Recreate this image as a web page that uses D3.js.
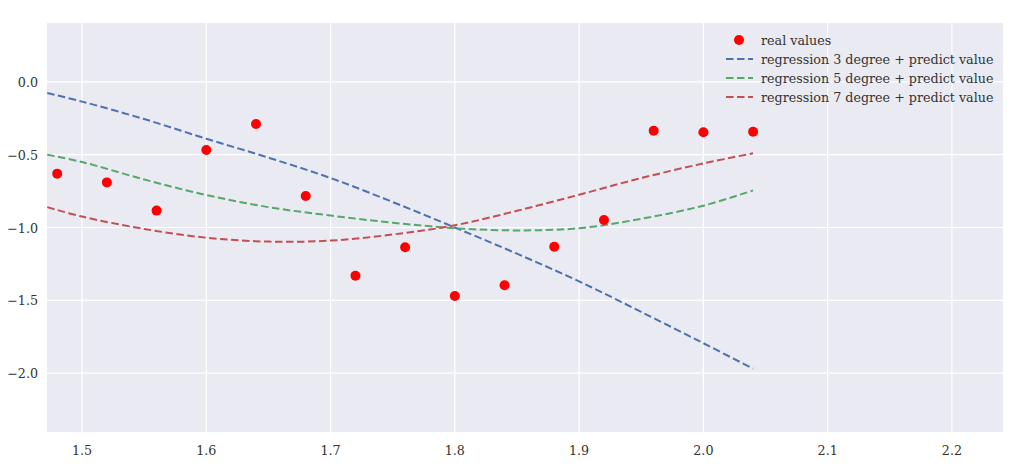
<!DOCTYPE html>
<html>
<head>
<meta charset="UTF-8">
<title>regression</title>
<script src="https://d3js.org/d3.v7.min.js"></script>
<style>
  body { margin: 0; background: #fff; }
  text { font-family: "DejaVu Serif", serif; }
</style>
</head>
<body>
<div id="chart"></div>
<script>
// real values
var pointX = [1.48, 1.52, 1.56, 1.60, 1.64, 1.68, 1.72, 1.76, 1.80, 1.84, 1.88, 1.92, 1.96, 2.00, 2.04];
var pointY = [-0.630, -0.690, -0.884, -0.467, -0.289, -0.784, -1.331, -1.136, -1.471, -1.397, -1.132, -0.948, -0.335, -0.346, -0.342];

// fitted curves
var curveX = [1.472, 1.50, 1.55, 1.60, 1.65, 1.70, 1.75, 1.80, 1.85, 1.90, 1.95, 2.00, 2.04];
var deg3 = [-0.076, -0.135, -0.255, -0.39, -0.52, -0.66, -0.825, -1.00, -1.18, -1.37, -1.58, -1.795, -1.97];
var deg5 = [-0.50, -0.55, -0.67, -0.777, -0.86, -0.918, -0.967, -1.005, -1.02, -1.005, -0.94, -0.85, -0.745];
var deg7 = [-0.86, -0.925, -1.01, -1.07, -1.097, -1.09, -1.048, -0.985, -0.885, -0.775, -0.66, -0.56, -0.49];

var xTicks = [1.5, 1.6, 1.7, 1.8, 1.9, 2.0, 2.1, 2.2];
var yTicks = [0.0, -0.5, -1.0, -1.5, -2.0];

var series = [
  { label: 'regression 3 degree + predict value', values: deg3, color: '#4C72B0' },
  { label: 'regression 5 degree + predict value', values: deg5, color: '#55A868' },
  { label: 'regression 7 degree + predict value', values: deg7, color: '#C44E52' }
];

var width = 1024, height = 465;
var margin = { left: 47, right: 21, top: 23, bottom: 33 };
var fontSize = 12.7;

var svg = d3.select('#chart').append('svg')
  .attr('width', width)
  .attr('height', height);

var x = d3.scaleLinear().domain([1.4718, 2.2411]).range([margin.left, width - margin.right]);
var y = d3.scaleLinear().domain([-2.405, 0.405]).range([height - margin.bottom, margin.top]);

svg.append('rect')
  .attr('x', margin.left).attr('y', margin.top)
  .attr('width', width - margin.left - margin.right)
  .attr('height', height - margin.top - margin.bottom)
  .attr('fill', '#EAEAF2');

// grid
svg.append('g').selectAll('line').data(xTicks).enter().append('line')
  .attr('x1', function(d) { return x(d); }).attr('x2', function(d) { return x(d); })
  .attr('y1', margin.top).attr('y2', height - margin.bottom)
  .attr('stroke', '#fff').attr('stroke-width', 1.2);
svg.append('g').selectAll('line').data(yTicks).enter().append('line')
  .attr('y1', function(d) { return y(d); }).attr('y2', function(d) { return y(d); })
  .attr('x1', margin.left).attr('x2', width - margin.right)
  .attr('stroke', '#fff').attr('stroke-width', 1.2);

// tick labels
var fmt = d3.format('.1f');
svg.append('g').selectAll('text').data(xTicks).enter().append('text')
  .attr('x', function(d) { return x(d); })
  .attr('y', height - margin.bottom + 23)
  .attr('text-anchor', 'middle')
  .attr('font-size', fontSize)
  .attr('fill', '#333')
  .text(function(d) { return fmt(d); });
svg.append('g').selectAll('text').data(yTicks).enter().append('text')
  .attr('x', margin.left - 9)
  .attr('y', function(d) { return y(d) + 5; })
  .attr('text-anchor', 'end')
  .attr('font-size', fontSize)
  .attr('fill', '#333')
  .text(function(d) { return fmt(d).replace('-', '\u2212'); });

// curves
var line = d3.line()
  .x(function(d) { return x(d[0]); })
  .y(function(d) { return y(d[1]); })
  .curve(d3.curveCatmullRom);

series.forEach(function(s) {
  svg.append('path')
    .datum(d3.zip(curveX, s.values))
    .attr('d', line)
    .attr('fill', 'none')
    .attr('stroke', s.color)
    .attr('stroke-width', 2)
    .attr('stroke-dasharray', '7.5,3.5');
});

// points
svg.append('g').selectAll('circle').data(d3.zip(pointX, pointY)).enter().append('circle')
  .attr('cx', function(d) { return x(d[0]); })
  .attr('cy', function(d) { return y(d[1]); })
  .attr('r', 5)
  .attr('fill', '#ff0000');

// legend
var legend = svg.append('g').attr('transform', 'translate(725,40)');
var rowH = 19;
legend.append('circle').attr('cx', 14).attr('cy', 0).attr('r', 5).attr('fill', '#ff0000');
legend.append('text').attr('x', 36).attr('y', 4.5).attr('font-size', fontSize).attr('fill', '#333').text('real values');
series.forEach(function(s, i) {
  var yy = (i + 1) * rowH;
  legend.append('line')
    .attr('x1', 1).attr('x2', 28).attr('y1', yy).attr('y2', yy)
    .attr('stroke', s.color).attr('stroke-width', 2)
    .attr('stroke-dasharray', '7.5,3.5');
  legend.append('text').attr('x', 36).attr('y', yy + 4.5)
    .attr('font-size', fontSize).attr('fill', '#333').text(s.label);
});
</script>
</body>
</html>
